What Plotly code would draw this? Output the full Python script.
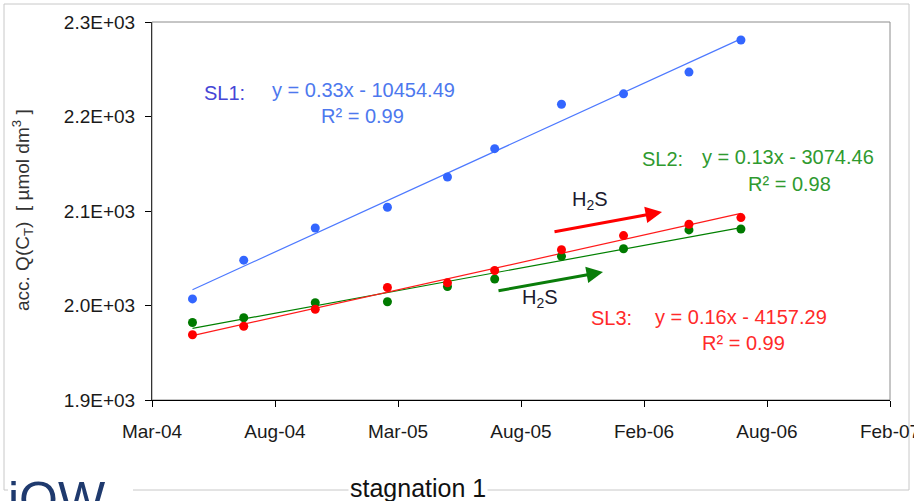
import numpy as np
import pandas as pd
import plotly.graph_objects as go

# ---- data -------------------------------------------------------------
sample_dates = ["2004-04-30", "2004-07-15", "2004-10-29", "2005-02-13", "2005-05-13",
                "2005-07-22", "2005-10-29", "2006-01-29", "2006-05-06", "2006-07-22"]
sl1_values = [2007, 2048, 2082, 2104, 2136, 2166, 2213, 2224, 2247, 2281]
sl2_values = [1982, 1987, 2003, 2004, 2020, 2028, 2052, 2060, 2080, 2081]
sl3_values = [1969, 1978, 1996, 2019, 2024, 2037, 2059, 2074, 2086, 2093]

x_tick_labels = ["Mar-04", "Aug-04", "Mar-05", "Aug-05", "Feb-06", "Aug-06", "Feb-07"]
y_tick_values = [1900, 2000, 2100, 2200, 2300]
y_tick_labels = ["1.9E+03", "2.0E+03", "2.1E+03", "2.2E+03", "2.3E+03"]

x_start = pd.Timestamp("2004-03-01")
x_end = pd.Timestamp("2007-02-28")

# ---- figure geometry (pixels) -----------------------------------------
W, H = 914, 501
L, R, T, B = 152, 890, 22, 400


def paper(px, py):
    return (px - L) / (R - L), (B - py) / (B - T)


FONT = "Liberation Sans, Arial, sans-serif"

dates = pd.to_datetime(sample_dates)
days = np.array([(d - x_start).days for d in dates], dtype=float)

series = [
    ("SL1", sl1_values, "#3366ff", "#4d79ff"),
    ("SL2", sl2_values, "#007a00", "#008000"),
    ("SL3", sl3_values, "#ff0000", "#ff1a1a"),
]

fig = go.Figure()
for name, vals, mcol, lcol in series:
    slope, icpt = np.polyfit(days, np.array(vals, dtype=float), 1)
    fit_days = np.array([days[0], days[-1]])
    fit_dates = [x_start + pd.Timedelta(days=float(d)) for d in fit_days]
    fig.add_trace(go.Scatter(x=fit_dates, y=slope * fit_days + icpt, mode="lines",
                             line=dict(color=lcol, width=1.2), hoverinfo="skip",
                             name=name + " fit"))
for name, vals, mcol, lcol in series:
    fig.add_trace(go.Scatter(x=dates, y=vals, mode="markers", name=name,
                             marker=dict(color=mcol, size=9, line=dict(width=0))))

span = (x_end - x_start) / 6
x_tick_values = [x_start + k * span for k in range(7)]
x_tick_values[-1] = x_end - pd.Timedelta(minutes=1)

fig.update_layout(
    width=W, height=H,
    margin=dict(l=L, r=W - R, t=T, b=H - B),
    paper_bgcolor="white", plot_bgcolor="white",
    showlegend=False,
    font=dict(family=FONT, color="#1a1a1a"),
    xaxis=dict(type="date", range=[x_start, x_end], tickvals=x_tick_values,
               ticktext=x_tick_labels, ticks="outside", ticklen=6, tickcolor="#000",
               showline=True, linecolor="#000", linewidth=1, showgrid=False,
               zeroline=False, tickfont=dict(size=19, family=FONT, color="#1a1a1a"),
               ticklabelstandoff=8, ticklabeloverflow="allow", automargin=False),
    yaxis=dict(range=[1900, 2300], tickvals=y_tick_values, ticktext=y_tick_labels,
               ticks="outside", ticklen=6, tickcolor="#000", showline=True,
               linecolor="#333", linewidth=1, showgrid=False, zeroline=False,
               tickfont=dict(size=19, family=FONT, color="#1a1a1a"),
               ticklabelstandoff=6, automargin=False),
)

# plot-area frame and outer slide frame
fig.add_shape(type="rect", xref="paper", yref="paper", x0=0, y0=0, x1=1, y1=1,
              line=dict(color="#8c8c8c", width=1), layer="below")
x0, y0 = paper(4, 4)
x1, y1 = paper(909, 490)
fig.add_shape(type="rect", xref="paper", yref="paper", x0=x0, y0=y1, x1=x1, y1=y0,
              line=dict(color="#c8c8c8", width=1), layer="below")
# logo patch at the lower left
lx0, ly0 = paper(8, 480)
lx1, ly1 = paper(133, 505)
fig.add_shape(type="rect", xref="paper", yref="paper", x0=lx0, y0=ly1, x1=lx1, y1=ly0,
              fillcolor="white", line=dict(width=0), layer="below")


def label(text, px, py, color, size=19, **kw):
    x, y = paper(px, py)
    fig.add_annotation(text=text, x=x, y=y, xref="paper", yref="paper",
                       showarrow=False, xanchor="center", yanchor="middle",
                       font=dict(family=FONT, size=size, color=color), **kw)


# regression labels
label("SL1:", 224, 93, "#4646d6", size=20)
label("y = 0.33x - 10454.49", 363, 90, "#4d78ee", size=20)
label("R² = 0.99", 362, 116, "#4d78ee", size=20)

label("SL2:", 662, 159, "#2f9a2f", size=20)
label("y = 0.13x - 3074.46", 788, 157, "#2f9a2f", size=20)
label("R² = 0.98", 789, 184, "#2f9a2f", size=20)

label("SL3:", 611, 318, "#ff2a2a", size=20)
label("y = 0.16x - 4157.29", 741, 317, "#ff2a2a", size=20)
label("R² = 0.99", 743, 343, "#ff2a2a", size=20)

# H2S arrows
for tip, tail, col, txt_pos in [((662, 212), (553, 232), "#ff0000", (590, 201)),
                                ((603, 272), (497, 291), "#0a7d0a", (540, 298))]:
    tx, ty = paper(*tip)
    fig.add_annotation(x=tx, y=ty, xref="paper", yref="paper", text="",
                       showarrow=True, arrowhead=2, arrowsize=1.1, arrowwidth=3,
                       arrowcolor=col, ax=tail[0] - tip[0], ay=tail[1] - tip[1],
                       standoff=0)
    label("H<sub>2</sub>S", txt_pos[0], txt_pos[1], "#1a1a2e", size=20)

# axis titles
label("acc. Q(C<sub>T</sub>)  [ µmol dm<sup>3</sup> ]", 22, 210, "#333333", size=19,
      textangle=-90)
label("stagnation 1", 418, 488, "#111111", size=25, bgcolor="white")

# logo text (cropped by the page edge)
gx, gy = paper(6, 470)
fig.add_annotation(text="iOW", x=gx, y=gy, xref="paper", yref="paper", showarrow=False,
                   xanchor="left", yanchor="top",
                   font=dict(family=FONT, size=50, color="#1f3a6e"))

fig.write_html("out.html")
